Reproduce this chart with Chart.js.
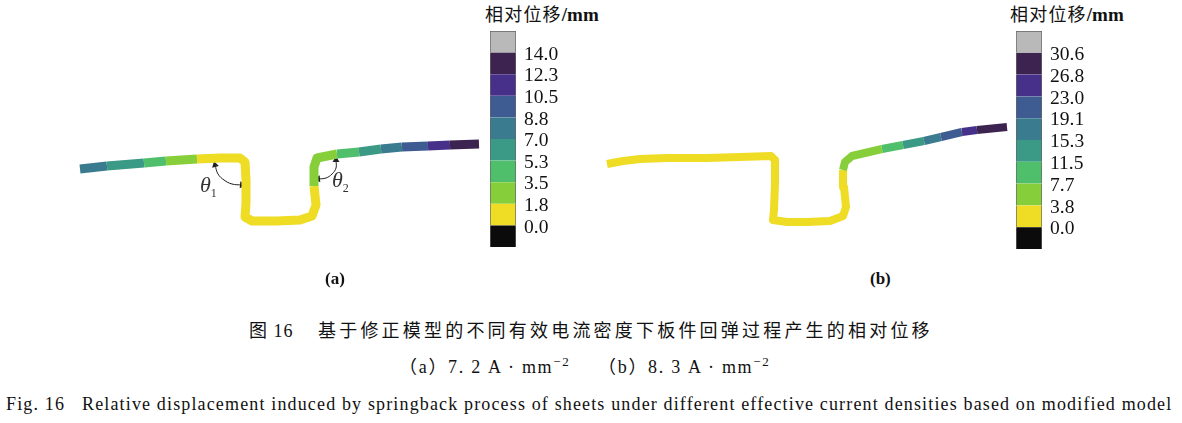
<!DOCTYPE html>
<html lang="zh">
<head>
  <meta charset="UTF-8">
  <title>图 16 相对位移</title>
  <style>
    body { margin: 0; background: #fff; width: 1182px; height: 423px; overflow: hidden; position: relative; color: #111; }
    canvas { position: absolute; }
    .t { position: absolute; white-space: pre; font-family: "Liberation Serif", "Noto Sans CJK SC", serif; line-height: 1; }
    .cjk { font-family: "Noto Sans CJK SC", sans-serif; }
    .cb { font-family: "Noto Sans CJK SC", sans-serif; font-size: 18px; letter-spacing: 1.2px; }
    .cb b { font-family: "Liberation Serif"; font-weight: bold; font-size: 19px; letter-spacing: 0; }
    .th { font-style: italic; font-size: 22px; color: #333; }
    .th sub { font-style: normal; font-size: 12px; }
    sup { font-size: 13px; line-height: 0; }
  </style>
</head>
<body>
  <canvas id="profileA" width="430" height="120" style="left:60px;top:120px"></canvas>
  <canvas id="profileB" width="426" height="120" style="left:590px;top:120px"></canvas>
  <canvas id="barA" width="90" height="216" style="left:490px;top:31px"></canvas>
  <canvas id="barB" width="90" height="218" style="left:1016px;top:31px"></canvas>

  <div class="t cb" style="left:485px;top:4px">相对位移<b>/mm</b></div>
  <div class="t cb" style="left:1010px;top:4px">相对位移<b>/mm</b></div>
  <div class="t th" style="left:200px;top:174px">θ<sub>1</sub></div>
  <div class="t th" style="left:332px;top:169px">θ<sub>2</sub></div>
  <div class="t" style="left:325px;top:270px;font-size:17px;font-weight:bold">(a)</div>
  <div class="t" style="left:870px;top:270px;font-size:17px;font-weight:bold">(b)</div>
  <div class="t" style="left:249px;top:320px;font-size:18px;letter-spacing:1px"><span class="cjk">图</span> 16</div>
  <div class="t cjk" style="left:318px;top:320px;font-size:18px;letter-spacing:3.2px">基于修正模型的不同有效电流密度下板件回弹过程产生的相对位移</div>
  <div class="t" style="left:399px;top:358px;font-size:18px;letter-spacing:1.7px">（a）7. 2 A · mm<sup>−2</sup></div>
  <div class="t" style="left:598px;top:358px;font-size:18px;letter-spacing:1.7px">（b）8. 3 A · mm<sup>−2</sup></div>
  <div class="t" style="left:6px;top:395px;font-size:18px;letter-spacing:1.15px">Fig. 16   Relative displacement induced by springback process of sheets under different effective current densities based on modified model</div>

  <script src="https://cdn.jsdelivr.net/npm/chart.js"></script>
  <script>
    // colour of each band, bottom to top of the colour bar
    const bandColors = ['#0b0b0b', '#eedc25', '#86cf3a', '#4fbf6b', '#3a9a85', '#3b7b90', '#3f5c92', '#47308a', '#3d2450', '#b9b9b9'];

    const ticksA = [0.0, 1.8, 3.5, 5.3, 7.0, 8.8, 10.5, 12.3, 14.0];
    const ticksB = [0.0, 3.8, 7.7, 11.5, 15.3, 19.1, 23.0, 26.8, 30.6];

    // sheet outline, position in the figure and displacement per stretch
    const xA = [80, 107, 144, 166, 197, 220, 240, 245, 246, 246, 245, 252, 277, 300, 312, 316, 314, 314, 317, 337, 359, 381, 402, 428, 450, 479];
    const yA = [169, 166, 163, 161, 159, 158, 158, 162, 180, 203, 217, 221, 221, 220, 216, 205, 186, 167, 158, 154, 152, 149, 147, 146, 145, 144];
    const dispA = [7.9, 6.2, 4.4, 2.6, 0.9, 0.9, 0.9, 0.9, 0.9, 0.9, 0.9, 0.9, 0.9, 0.9, 0.9, 0.9, 2.6, 2.6, 2.6, 4.4, 6.2, 7.9, 9.6, 11.4, 13.1];

    const xB = [607, 623, 640, 667, 707, 740, 771, 775, 775, 774, 773, 787, 807, 830, 843, 846, 844, 843, 845, 852, 882, 903, 924, 941, 962, 977, 1007];
    const yB = [164, 161, 159, 158, 158, 157, 156, 160, 183, 210, 220, 222, 222, 221, 216, 207, 187, 170, 162, 156, 149, 145, 141, 137, 132, 130, 127];
    const dispB = [1.9, 1.9, 1.9, 1.9, 1.9, 1.9, 1.9, 1.9, 1.9, 1.9, 1.9, 1.9, 1.9, 1.9, 1.9, 1.9, 1.9, 5.7, 5.7, 5.7, 9.6, 13.4, 17.2, 21.0, 24.9, 28.7];

    // angle marks in panel (a)
    const arc1X = [215, 218, 224, 232, 242];
    const arc1Y = [165, 174, 180, 184, 185];
    const arc1Rot = [-15, 0, 0, 0, 95];
    const arc2X = [336, 336, 332, 326, 318];
    const arc2Y = [160, 168, 174, 178, 179];
    const arc2Rot = [0, 0, 0, 0, -95];

    function toPoints(xs, ys) {
      return xs.map((x, i) => ({ x: x, y: ys[i] }));
    }

    function bandColor(v, ticks) {
      let i = ticks.findIndex(t => v < t);
      return bandColors[i < 0 ? bandColors.length - 1 : i];
    }

    function arcDataset(xs, ys, rot) {
      return {
        data: toPoints(xs, ys),
        showLine: true,
        tension: 0.4,
        borderColor: '#222',
        borderWidth: 1,
        backgroundColor: '#222',
        pointBorderWidth: 0,
        pointStyle: 'triangle',
        pointRadius: ctx => (ctx.dataIndex === 0 || ctx.dataIndex === xs.length - 1) ? 4 : 0,
        pointRotation: rot
      };
    }

    // chart.js insets the plot area by the end point radius, so the scale limits allow for it
    function profileChart(id, xs, ys, disp, ticks, width, xMin, xMax, pad, extra) {
      return new Chart(document.getElementById(id), {
        type: 'scatter',
        data: {
          datasets: [{
            data: toPoints(xs, ys),
            showLine: true,
            borderWidth: width,
            borderJoinStyle: 'round',
            pointRadius: 0,
            segment: { borderColor: ctx => bandColor(disp[ctx.p0DataIndex], ticks) }
          }].concat(extra)
        },
        options: {
          responsive: false,
          animation: false,
          layout: { padding: 0 },
          plugins: { legend: { display: false }, tooltip: { enabled: false } },
          scales: {
            x: { type: 'linear', display: false, min: xMin + pad, max: xMax - pad },
            y: { type: 'linear', display: false, min: 120 + pad, max: 240 - pad, reverse: true }
          }
        }
      });
    }

    function colorBar(id, ticks) {
      return new Chart(document.getElementById(id), {
        type: 'bar',
        data: {
          labels: [''],
          datasets: bandColors.map((c, i) => ({
            data: [1],
            backgroundColor: c,
            borderColor: '#666',
            borderWidth: { left: 1, right: 1, top: i === bandColors.length - 1 ? 1 : 0, bottom: 0 },
            borderSkipped: false,
            barPercentage: 1,
            categoryPercentage: 1
          }))
        },
        options: {
          responsive: false,
          animation: false,
          layout: { padding: 0 },
          plugins: { legend: { display: false }, tooltip: { enabled: false } },
          scales: {
            x: { stacked: true, display: false },
            y: {
              stacked: true,
              position: 'right',
              min: 0,
              max: bandColors.length,
              grid: { display: false, drawTicks: false },
              border: { display: false },
              afterFit: s => { s.width = 64; s.paddingTop = 0; s.paddingBottom = 0; },
              ticks: {
                stepSize: 1,
                autoSkip: false,
                padding: 8,
                labelOffset: 2,
                color: '#111',
                font: { family: 'Liberation Serif', size: 19.5 },
                callback: v => (v >= 1 && v <= ticks.length) ? ticks[v - 1].toFixed(1) : ''
              }
            }
          }
        }
      });
    }

    profileChart('profileA', xA, yA, dispA, ticksA, 9, 60, 490, 4, [arcDataset(arc1X, arc1Y, arc1Rot), arcDataset(arc2X, arc2Y, arc2Rot)]);
    profileChart('profileB', xB, yB, dispB, ticksB, 8, 590, 1016, 0, []);
    colorBar('barA', ticksA);
    colorBar('barB', ticksB);
  </script>
</body>
</html>
